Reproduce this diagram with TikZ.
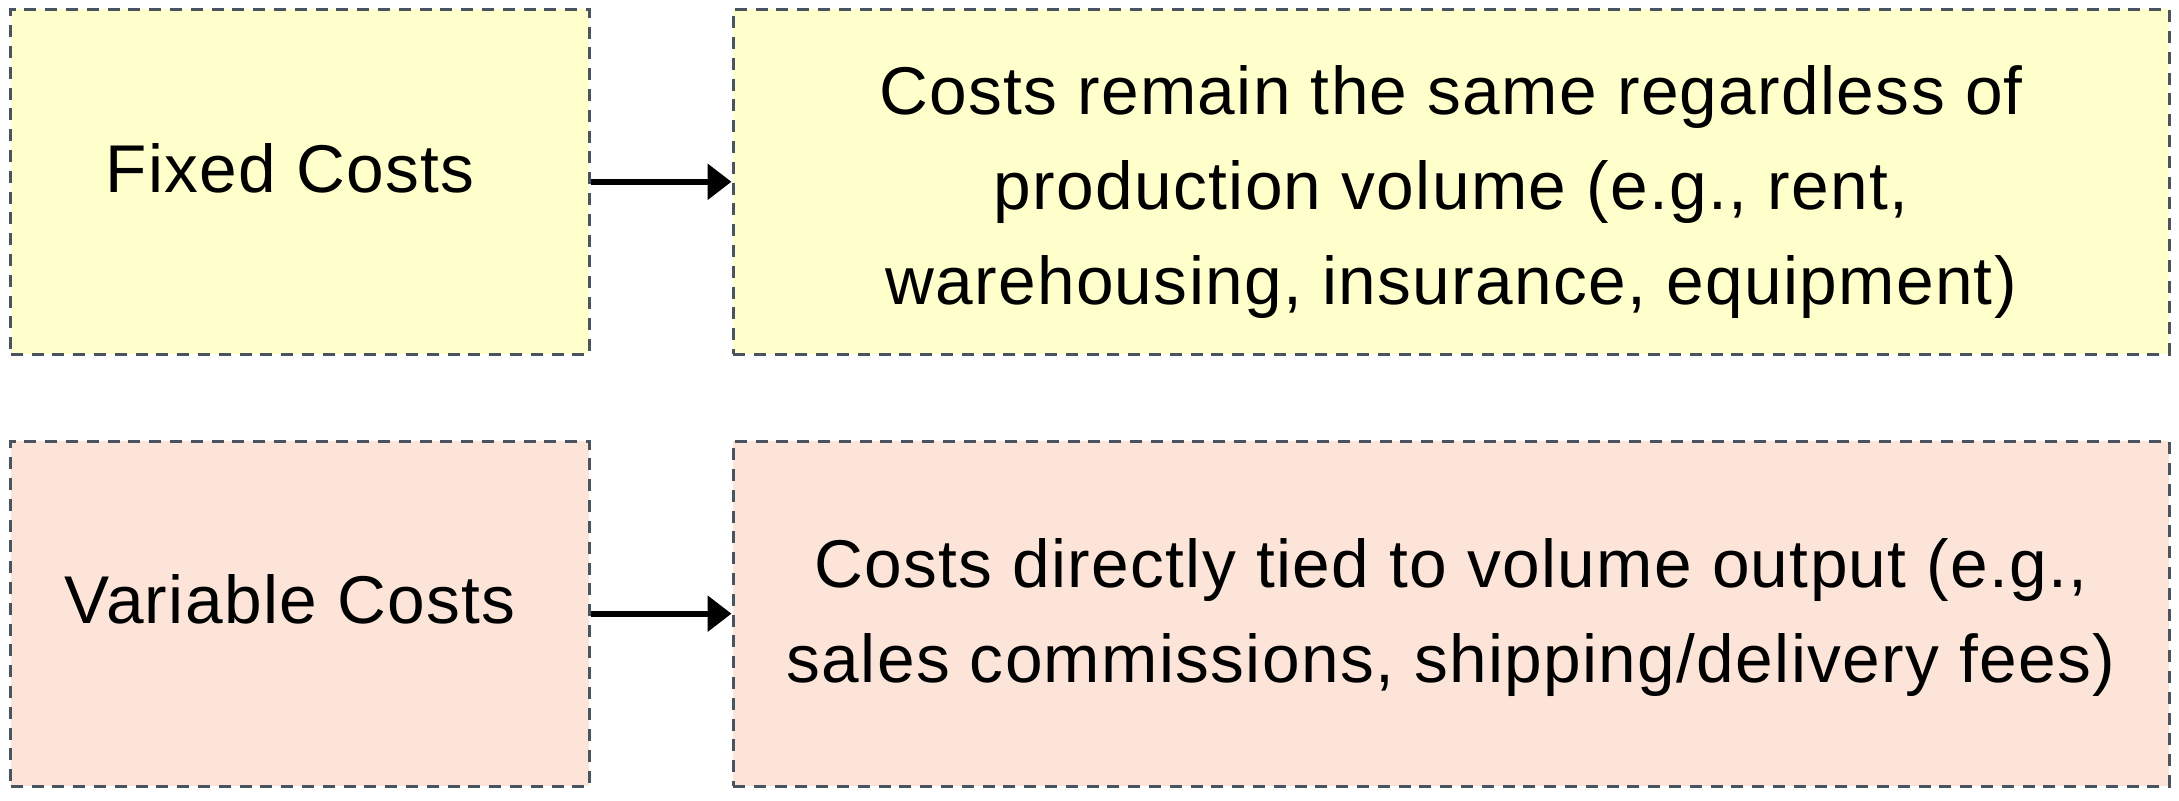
\documentclass[tikz,border=0pt]{standalone}
\usepackage{fontspec}
\setmainfont{Liberation Sans}[LetterSpace=2]
\usetikzlibrary{arrows.meta}
\definecolor{fixfill}{HTML}{FFFFCC}
\definecolor{varfill}{HTML}{FCE5D8}
\definecolor{dashcol}{HTML}{4A5461}
\begin{document}
\begin{tikzpicture}[x=0.5pt,y=-0.5pt,
  box/.style={draw=dashcol, line width=1.5pt, dash pattern=on 6pt off 4.4pt, inner sep=0pt},
  leftbox/.style={box, minimum width=289.35pt, minimum height=172.5pt},
  rightbox/.style={box, minimum width=718pt, minimum height=172.5pt},
  txt/.style={font=\fontsize{33.8}{47.5}\selectfont, align=center, inner sep=0pt},
  conn/.style={line width=3pt, -{Triangle[length=12pt, width=17.5pt]}}]
\useasboundingbox (0,0) rectangle (2179,801);
\node[leftbox, fill=fixfill] (fixedbox) at (300.05,181.8) {};
\node[rightbox, fill=fixfill] (fixeddesc) at (1451,181.8) {};
\node[leftbox, fill=varfill] (varbox) at (300.05,613.7) {};
\node[rightbox, fill=varfill] (vardesc) at (1451,613.7) {};
\node[txt] (fixedtxt) at (290,168.5) {Fixed Costs};
\node[txt] (fixeddesctxt) at (1451,192.5) {Costs remain the same regardless of\\production volume (e.g., rent,\\warehousing, insurance, equipment)};
\node[txt] (vartxt) at (290,599.5) {Variable Costs};
\node[txt] (vardesctxt) at (1451,618) {Costs directly tied to volume output (e.g.,\\sales commissions, shipping/delivery fees)};
\draw[conn] (fixedbox.east) -- (fixeddesc.west);
\draw[conn] (varbox.east) -- (vardesc.west);
\end{tikzpicture}
\end{document}
